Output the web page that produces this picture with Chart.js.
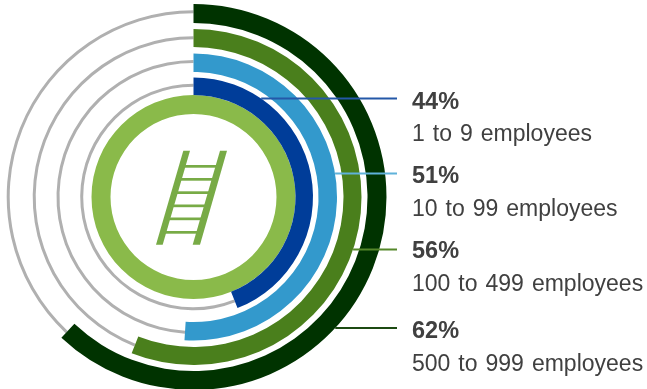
<!DOCTYPE html>
<html>
<head>
    <meta charset="UTF-8">
    <title>Employees</title>
    <script src="https://cdn.jsdelivr.net/npm/chart.js"></script>
    <style>
        html, body { margin: 0; padding: 0; background: #fff; overflow: hidden; }
        canvas { position: absolute; left: 0; top: 0; }
    </style>
</head>
<body>
    <canvas id="greyRings" width="647" height="390"></canvas>
    <canvas id="colorRings" width="647" height="390"></canvas>
    <script>
        // inner ring first
        var categories = ['1 to 9 employees', '10 to 99 employees', '100 to 499 employees', '500 to 999 employees'];
        var percents = [44, 51, 56, 62];
        var ringColors = ['#003d99', '#3399cc', '#4a7f1c', '#003300'];
        var lineColors = ['#2458a8', '#5fb2da', '#55872a', '#1c4a12'];
        var coreColor = '#8aba4a';
        var greyColor = '#b0b0b0';
        var ladderColor = '#78ab46';

        var CUTOUT = 83;
        var padding = { left: 0, top: 4, right: 260, bottom: 0 };

        // y of the leader line, and text baselines
        var lineY = [98.5, 173.5, 249.5, 328];
        var pctY = [108.5, 183, 257.5, 338];
        var nameY = [141, 216, 291, 371];

        function baseOptions() {
            return {
                responsive: false,
                animation: false,
                cutout: CUTOUT,
                layout: { padding: padding },
                plugins: { legend: { display: false }, tooltip: { enabled: false } },
                elements: { arc: { borderWidth: 0 } }
            };
        }

        // ring stack, outer first: weights are the band widths
        function band(weight, data, colors) {
            return { data: data, backgroundColor: colors, weight: weight, borderWidth: 0 };
        }
        function rest(p) { return [p, 100 - p]; }

        var colorSets = [
            band(19, rest(percents[3]), [ringColors[3], 'transparent']),
            band(6, [1], ['transparent']),
            band(18, rest(percents[2]), [ringColors[2], 'transparent']),
            band(6.5, [1], ['transparent']),
            band(18.5, rest(percents[1]), [ringColors[1], 'transparent']),
            band(5.5, [1], ['transparent']),
            band(17.5, rest(percents[0]), [ringColors[0], 'transparent']),
            band(19, [100], [coreColor])
        ];

        var greySets = [
            band(6.2, [1], ['transparent']),
            band(3, rest(percents[3]), ['transparent', greyColor]),
            band(23, [1], ['transparent']),
            band(3, rest(percents[2]), ['transparent', greyColor]),
            band(20.8, [1], ['transparent']),
            band(3, rest(percents[1]), ['transparent', greyColor]),
            band(20.7, [1], ['transparent']),
            band(3, rest(percents[0]), ['transparent', greyColor]),
            band(27.3, [1], ['transparent'])
        ];

        var ladderPlugin = {
            id: 'ladder',
            afterDraw: function (chart) {
                var ctx = chart.ctx;
                var topY = 150.7, botY = 244.7;
                var rails = [[183.3, 190, 156, 162.7], [220, 227, 192.7, 200]];
                var rungs = [165, 178, 191.3, 204.5, 217.5, 231];
                ctx.save();
                ctx.fillStyle = ladderColor;
                rails.forEach(function (r) {
                    ctx.beginPath();
                    ctx.moveTo(r[0], topY);
                    ctx.lineTo(r[1], topY);
                    ctx.lineTo(r[3], botY);
                    ctx.lineTo(r[2], botY);
                    ctx.closePath();
                    ctx.fill();
                });
                var slope = (183.3 - 156) / (botY - topY);
                rungs.forEach(function (y) {
                    var x0 = 187 - (y - topY) * slope;
                    var x1 = 223 - (y - topY) * slope;
                    ctx.fillRect(x0, y, x1 - x0, 2.7);
                });
                ctx.restore();
            }
        };

        var labelPlugin = {
            id: 'labels',
            afterDraw: function (chart) {
                var ctx = chart.ctx;
                ctx.save();
                categories.forEach(function (name, i) {
                    // dataset 0 is the outer ring, so count back from it
                    var arc = chart.getDatasetMeta((3 - i) * 2).data[0];
                    var dy = lineY[i] - arc.y;
                    var startX = arc.x + Math.sqrt(arc.outerRadius * arc.outerRadius - dy * dy);
                    ctx.strokeStyle = lineColors[i];
                    ctx.lineWidth = 2;
                    ctx.beginPath();
                    ctx.moveTo(startX, lineY[i]);
                    ctx.lineTo(397, lineY[i]);
                    ctx.stroke();

                    ctx.fillStyle = '#404040';
                    ctx.textAlign = 'left';
                    ctx.textBaseline = 'alphabetic';
                    ctx.font = 'bold 23.5px "Liberation Sans", Arial, sans-serif';
                    ctx.wordSpacing = '0px';
                    ctx.fillText(percents[i] + '%', 412, pctY[i]);
                    ctx.font = '23px "Liberation Sans", Arial, sans-serif';
                    ctx.wordSpacing = '1.6px';
                    ctx.fillText(name, 412, nameY[i]);
                });
                ctx.restore();
            }
        };

        new Chart(document.getElementById('greyRings').getContext('2d'), {
            type: 'doughnut',
            data: { datasets: greySets },
            options: baseOptions()
        });

        new Chart(document.getElementById('colorRings').getContext('2d'), {
            type: 'doughnut',
            data: { datasets: colorSets },
            options: baseOptions(),
            plugins: [ladderPlugin, labelPlugin]
        });
    </script>
</body>
</html>
